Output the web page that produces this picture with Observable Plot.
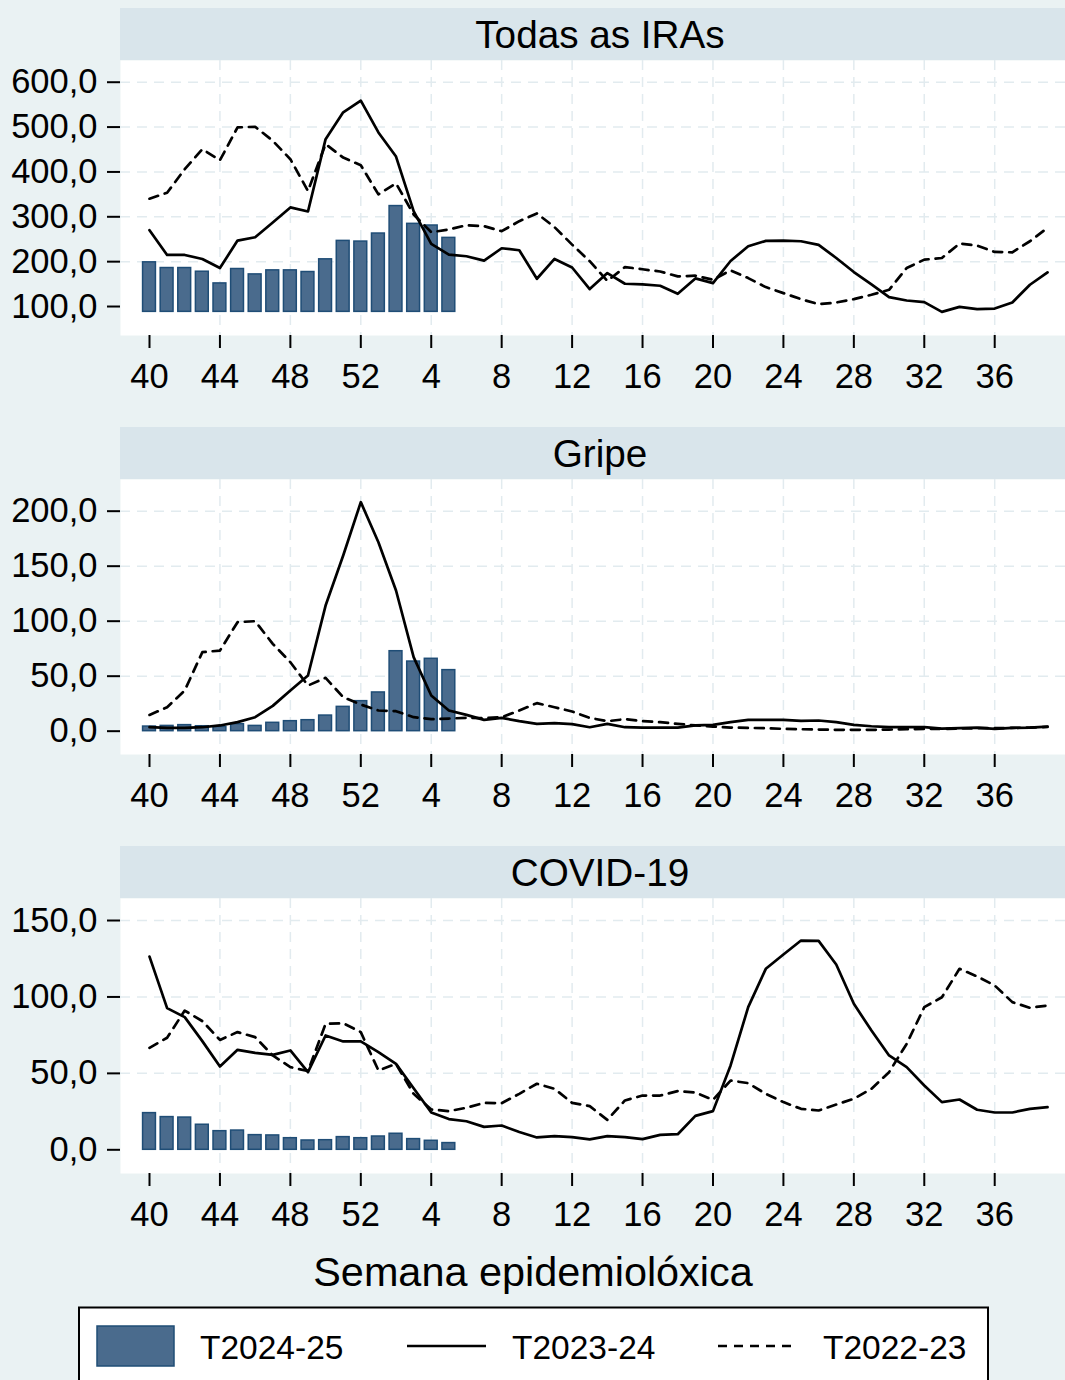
<!DOCTYPE html>
<html>
<head>
<meta charset="utf-8">
<script src="https://cdn.jsdelivr.net/npm/d3@7"></script>
<script src="https://cdn.jsdelivr.net/npm/@observablehq/plot@0.6"></script>
<style>
  body { margin: 0; background: #eaf2f3; }
  #root { position: relative; width: 1065px; height: 1380px; overflow: hidden; background: #eaf2f3;
          font-family: "Liberation Sans", Arial, sans-serif; }
  #root > svg { position: absolute; left: 0; }
</style>
</head>
<body>
<div id="root"></div>
<script>
// ---------- DATA ----------
const weeks = [40,41,42,43,44,45,46,47,48,49,50,51,52,1,2,3,4,5,6,7,8,9,10,11,12,13,14,15,16,17,18,19,20,21,22,23,24,25,26,27,28,29,30,31,32,33,34,35,36,37,38,39];
const xTickWeeks = [40,44,48,52,4,8,12,16,20,24,28,32,36];
const seriesNames = ["T2024-25", "T2023-24", "T2022-23"];
const panelTitles = ["Todas as IRAs", "Gripe", "COVID-19"];
const xTitle = "Semana epidemiolóxica";

const irasYTicks = [100,200,300,400,500,600];
const iras2425 = [198.5,185.8,185.8,177.6,151.5,183.6,171.6,180.6,180.6,176.9,205.2,246.3,244.8,262.7,323.9,284.3,280.6,253.0];
const iras2324 = [270.1,214.9,214.9,206.0,185.8,247.0,254.5,287.3,320.9,311.9,473.1,532.8,558.9,488.0,434.3,312.7,239.6,215.7,212.0,202.2,229.9,225.4,161.9,206.0,187.0,138.8,174.6,150.7,149.3,146.3,128.4,162.7,152.2,201.5,234.3,246.3,247.0,245.5,237.3,208.2,176.9,149.3,120.9,113.4,109.7,88.1,99.3,94.0,95.5,109.0,148.5,176.1];
const iras2223 = [340.3,353.7,406.0,450.7,426.1,499.3,500.7,469.4,428.4,357.5,461.9,432.0,414.9,350.0,374.6,305.2,265.7,271.6,281.3,279.1,267.9,290.3,307.5,277.0,238.0,201.0,157.0,188.0,183.0,178.0,167.2,168.7,159.7,180.6,163.4,143.3,129.9,116.4,105.2,109.0,116.4,126.1,137.3,185.8,204.5,208.2,240.3,235.8,221.6,220.9,245.5,275.4];

const gripeYTicks = [0,50,100,150,200];
const gripe2425 = [4.2,4.8,5.5,4.5,3.9,6.4,4.8,7.6,9.1,10.0,14.2,22.1,27.3,35.2,72.7,63.3,65.8,55.5];
const gripe2324 = [3.6,3.0,3.0,3.6,5.2,8.2,12.7,23.0,37.0,50.6,114.2,159.7,208.2,171.8,127.9,67.3,32.4,18.8,14.8,10.3,12.1,9.1,6.7,7.4,6.4,3.6,6.7,3.6,3.3,3.3,3.3,5.2,5.8,8.2,10.3,10.3,10.3,9.4,9.7,8.2,5.8,4.5,3.6,3.6,3.6,2.4,2.7,3.3,2.1,3.0,3.3,4.2];
const gripe2223 = [14.8,21.8,37.0,71.8,73.3,99.1,100.0,79.4,62.7,41.5,48.5,30.9,24.2,18.8,18.2,12.7,10.9,11.5,12.1,11.8,12.7,18.8,25.5,21.8,17.9,12.1,9.1,10.9,9.1,8.2,6.7,5.2,4.2,3.3,3.0,2.7,2.1,1.8,1.5,1.2,1.2,1.2,1.5,1.8,2.1,2.1,2.4,2.7,2.7,3.0,3.3,3.9];

const covidYTicks = [0,50,100,150];
const covid2425 = [24.0,21.4,21.1,16.4,12.2,12.6,9.6,9.4,7.6,6.1,6.3,8.3,7.6,8.7,10.5,7.0,5.9,4.4];
const covid2324 = [126.4,92.7,86.8,71.1,54.5,65.4,63.4,62.1,65.0,50.8,74.8,70.9,70.9,63.9,56.2,40.3,24.4,20.1,18.7,15.0,15.9,11.6,8.1,9.0,8.3,6.8,8.9,8.3,7.0,9.8,10.2,22.2,25.3,55.2,93.3,118.4,127.8,136.9,136.7,121.2,95.5,78.0,61.7,54.1,42.1,31.2,32.9,26.2,24.4,24.4,26.8,27.9];
const covid2223 = [66.7,73.3,91.1,84.2,71.9,77.0,73.7,61.7,54.1,51.5,82.4,82.8,77.0,51.9,56.2,36.6,26.4,25.3,27.5,30.7,30.5,36.6,43.2,39.9,30.7,28.6,19.6,32.3,35.5,35.5,38.4,37.5,32.7,45.3,43.6,36.6,31.2,26.8,25.7,29.6,33.4,39.9,50.8,69.3,93.3,99.8,118.4,113.4,107.5,96.6,92.9,94.4];

// ---------- CONFIG ----------
const panels = [
  { title: panelTitles[0], yTicks: irasYTicks,  yDomain: [35.4, 648.4], bars: iras2425,  solid: iras2324,  dashed: iras2223 },
  { title: panelTitles[1], yTicks: gripeYTicks, yDomain: [-21.2, 228.8], bars: gripe2425, solid: gripe2324, dashed: gripe2223 },
  { title: panelTitles[2], yTicks: covidYTicks, yDomain: [-15.5, 164.4], bars: covid2425, solid: covid2324, dashed: covid2223 }
];
const FONT = '"Liberation Sans", Arial, sans-serif';
const barFill = "#4a6b8d", barStroke = "#1f4d76";
const gridColor = "#e2ebef";
const panelStep = 419;
const plotTop = 60, plotH = 275, marginB = 72;
const xDomain = [-1.647, 52.02];
const tickIdx = xTickWeeks.map(w => weeks.indexOf(w));
const fmtY = v => d3.format(".1f")(v).replace(".", ",");

const root = document.getElementById("root");

// Background layer: strips, axis title, legend
const bg = d3.select(root).append("svg")
  .attr("width", 1065).attr("height", 1380).style("top", "0px")
  .style("font-family", FONT);

panels.forEach((p, k) => {
  const off = k * panelStep;
  bg.append("rect").attr("x", 120).attr("y", 8 + off).attr("width", 960).attr("height", 52).attr("fill", "#d9e5eb");
  bg.append("text").attr("x", 600).attr("y", 47.5 + off).attr("text-anchor", "middle")
    .attr("font-size", 38.7).attr("fill", "black").text(p.title);
});
bg.append("text").attr("x", 533).attr("y", 1286).attr("text-anchor", "middle")
  .attr("font-size", 41.4).attr("fill", "black").text(xTitle);

// legend
bg.append("rect").attr("x", 79).attr("y", 1307.5).attr("width", 909).attr("height", 120)
  .attr("fill", "white").attr("stroke", "black").attr("stroke-width", 2);
bg.append("rect").attr("x", 97).attr("y", 1326).attr("width", 77).attr("height", 40)
  .attr("fill", barFill).attr("stroke", barStroke).attr("stroke-width", 1.5);
bg.append("text").attr("x", 200).attr("y", 1359).attr("font-size", 33.5).text(seriesNames[0]);
bg.append("line").attr("x1", 407).attr("x2", 486).attr("y1", 1346).attr("y2", 1346)
  .attr("stroke", "black").attr("stroke-width", 2.6);
bg.append("text").attr("x", 512).attr("y", 1359).attr("font-size", 33.5).text(seriesNames[1]);
bg.append("line").attr("x1", 718).attr("x2", 796).attr("y1", 1346).attr("y2", 1346)
  .attr("stroke", "black").attr("stroke-width", 2.6).attr("stroke-dasharray", "9,7");
bg.append("text").attr("x", 823).attr("y", 1359).attr("font-size", 33.5).text(seriesNames[2]);

// ---------- PANELS ----------
panels.forEach((p, k) => {
  const base = Math.min(d3.min([...p.bars, ...p.solid, ...p.dashed]), p.yTicks[0]);
  const barData = p.bars.map((v, i) => ({ i, v }));
  const solidData = p.solid.map((v, i) => ({ i, v }));
  const dashedData = p.dashed.map((v, i) => ({ i, v }));
  const chart = Plot.plot({
    width: 1065,
    height: plotH + marginB,
    marginLeft: 120, marginRight: 0, marginTop: 0, marginBottom: marginB,
    x: { type: "linear", domain: xDomain },
    y: { domain: p.yDomain },
    style: { background: "transparent", fontFamily: FONT, fontSize: "34.5px", color: "black", overflow: "visible" },
    marks: [
      Plot.frame({ fill: "white", stroke: "none" }),
      Plot.ruleY(p.yTicks.slice(1), { stroke: gridColor, strokeWidth: 1.5, strokeDasharray: "10,7" }),
      Plot.ruleX(tickIdx.slice(1), { stroke: gridColor, strokeWidth: 1.5, strokeDasharray: "10,7" }),
      Plot.rectY(barData, { x1: d => d.i - 0.365, x2: d => d.i + 0.365, y1: base, y2: "v",
        fill: barFill, stroke: barStroke, strokeWidth: 1.5 }),
      Plot.lineY(solidData, { x: "i", y: "v", stroke: "black", strokeWidth: 2.7 }),
      Plot.lineY(dashedData, { x: "i", y: "v", stroke: "black", strokeWidth: 2.7, strokeDasharray: "9,7" }),
      Plot.axisY(p.yTicks, { tickSize: 13, tickPadding: 10, strokeWidth: 2, tickFormat: fmtY, label: null }),
      Plot.axisX(tickIdx, { tickSize: 13, tickPadding: 15, strokeWidth: 2, tickFormat: i => String(weeks[i]), label: null })
    ]
  });
  chart.style.position = "absolute";
  chart.style.left = "0px";
  chart.style.top = (plotTop + k * panelStep) + "px";
  chart.style.maxWidth = "none";
  root.appendChild(chart);
});
</script>
</body>
</html>
